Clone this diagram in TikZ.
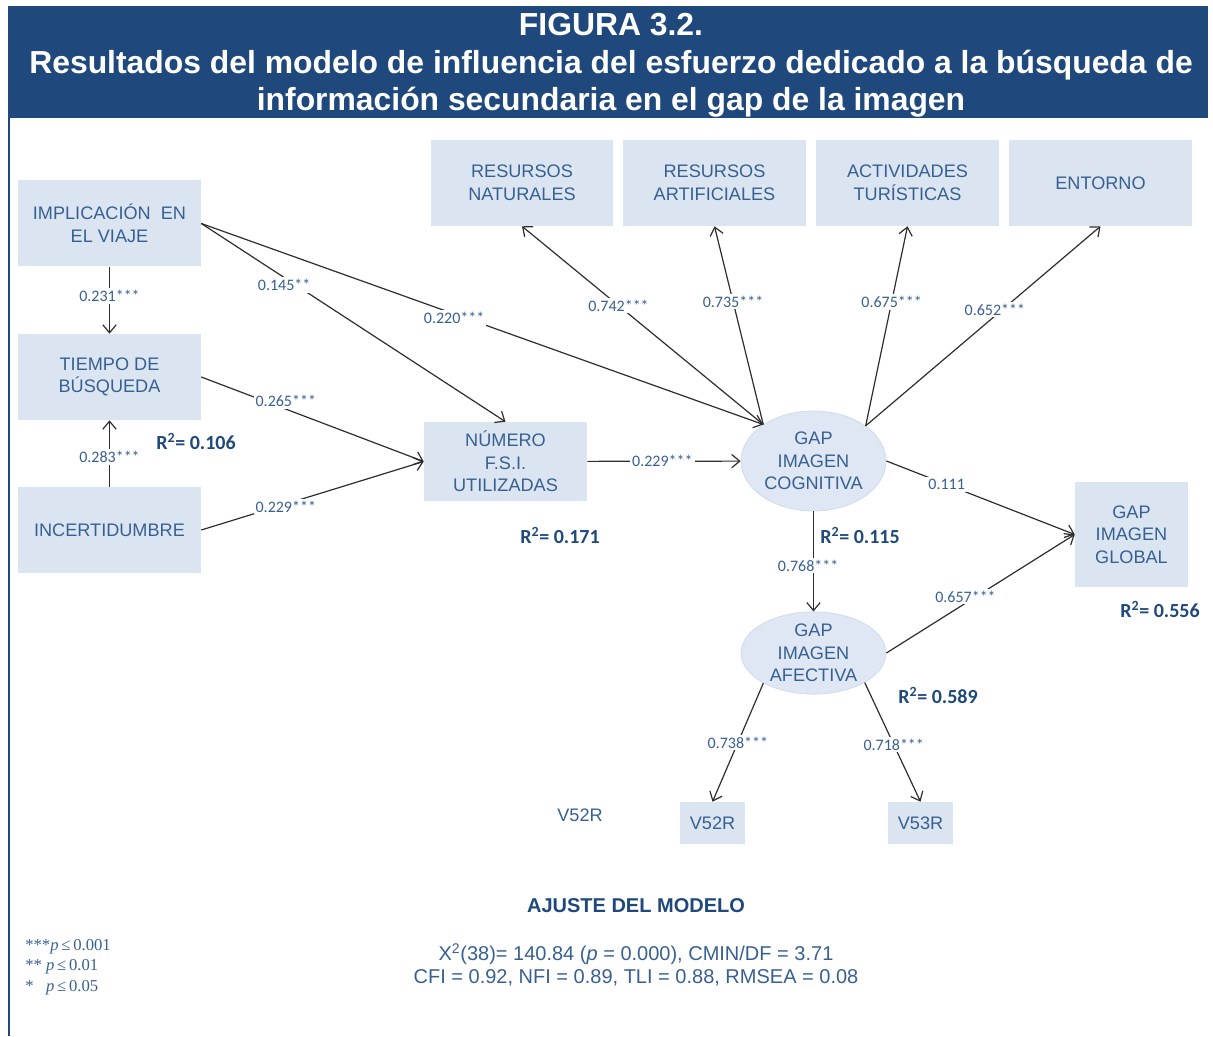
\documentclass[tikz,border=0pt]{standalone}
\usepackage{fontspec}
\setmainfont{Liberation Sans}
\newfontfamily\calfont{Carlito}
\newfontfamily\timesfont{Liberation Serif}
\usetikzlibrary{shapes.geometric,arrows.meta}
\definecolor{bandblue}{RGB}{31,73,125}
\definecolor{boxfill}{RGB}{219,229,241}
\definecolor{ovalfill}{RGB}{222,231,243}
\definecolor{ovaledge}{RGB}{208,220,236}
\definecolor{txtblue}{RGB}{55,96,146}
\definecolor{linegray}{RGB}{45,45,45}
\begin{document}
\begin{tikzpicture}[x=0.75pt,y=0.75pt,yscale=-1,xscale=1,
  caja/.style={fill=boxfill,text=txtblue,inner sep=0pt,align=center,font=\fontsize{13.6}{17}\selectfont},
  ovalo/.style={ellipse,fill=ovalfill,draw=ovaledge,line width=0.6pt,text=txtblue,inner sep=0pt,align=center,minimum width=108.75pt,font=\fontsize{13.6}{17}\selectfont},
  flecha/.style={draw=linegray,line width=0.9pt,-{Straight Barb[length=6pt,width=10pt]}},
  coef/.style={fill=white,text=txtblue,inner sep=1.5pt,font=\calfont\fontsize{12}{14}\selectfont},
  rcuad/.style={text=bandblue,inner sep=0pt,font=\calfont\bfseries\fontsize{15}{18}\selectfont},
  ajuste/.style={text=txtblue,inner sep=0pt,font=\fontsize{15}{18}\selectfont},
  leyenda/.style={anchor=west,text=txtblue,inner sep=0pt,font=\timesfont\fontsize{12.5}{14}\selectfont},
]
\useasboundingbox (0,0) rectangle (1213,1037);

%Shape: Title band
\fill [bandblue] (8,6) rectangle (1208,118);
\draw [bandblue,line width=1.5pt] (9,118) -- (9,1036);
% Text Node
\node (titulo) at (611,65.5) [text=white,align=center,font=\bfseries\fontsize{23.9}{28}\selectfont] {FIGURA 3.2.\\Resultados del modelo de influencia del esfuerzo dedicado a la búsqueda de\\información secundaria en el gap de la imagen};

%Shape: Boxes
\node (impl) at (109.5,223.5) [caja,minimum width=137.25pt,minimum height=64.5pt] {IMPLICACIÓN\ \ EN\\EL VIAJE};
\node (tiempo) at (109.5,377) [caja,minimum width=137.25pt,minimum height=64.5pt] {TIEMPO DE\\BÚSQUEDA};
\node (incert) at (109.5,530) [caja,minimum width=137.25pt,minimum height=64.5pt] {INCERTIDUMBRE};
\node (num) at (505.5,461.5) [caja,minimum width=122.25pt,minimum height=59.25pt] {NÚMERO\\F.S.I.\\UTILIZADAS};
\node (nat) at (522,183) [caja,minimum width=136.5pt,minimum height=64.5pt] {RESURSOS\\NATURALES};
\node (art) at (714.5,183) [caja,minimum width=137.25pt,minimum height=64.5pt] {RESURSOS\\ARTIFICIALES};
\node (act) at (907.5,183) [caja,minimum width=137.25pt,minimum height=64.5pt] {ACTIVIDADES\\TURÍSTICAS};
\node (ent) at (1100.5,183) [caja,minimum width=137.25pt,minimum height=64.5pt] {ENTORNO};
\node (glob) at (1131.5,534.5) [caja,minimum width=84.75pt,minimum height=78.75pt] {GAP\\IMAGEN\\GLOBAL};
\node (v52) at (712.5,823) [caja,minimum width=48.75pt,minimum height=31.5pt] {V52R};
\node (v53) at (920.5,823) [caja,minimum width=48.75pt,minimum height=31.5pt] {V53R};
\node (vsuelto) at (580,815) [text=txtblue,font=\fontsize{13.6}{17}\selectfont] {V52R};

%Shape: Ellipses
\node (cog) at (813.5,461) [ovalo,minimum height=75pt] {GAP\\IMAGEN\\COGNITIVA};
\node (afe) at (813.5,653) [ovalo,minimum height=61.5pt] {GAP\\IMAGEN\\AFECTIVA};

%Straight Lines
\draw [flecha] (impl) -- node [coef,pos=0.44] (c1) {0.231***} (tiempo);
\draw [flecha] (incert) -- node [coef,pos=0.45] (c2) {0.283***} (tiempo);
\draw [flecha] (impl.east) -- node [coef,pos=0.29,xshift=-4pt,yshift=-3pt] (c3) {0.145**} (num.north);
\draw [flecha] (impl.east) -- node [coef,pos=0.45,yshift=-3pt] (c4) {0.220***} (cog.144);
\draw [flecha] (tiempo.east) -- node [coef,pos=0.38,yshift=6pt] (c5) {0.265***} (num.west);
\draw [flecha] (incert.east) -- node [coef,pos=0.38,yshift=-2pt] (c6) {0.229***} (num.west);
\draw [flecha] (num) -- node [coef,pos=0.49] (c7) {0.229***} (cog);
\draw [flecha] (cog.144) -- node [coef,pos=0.6] (c8) {0.742***} (nat.south);
\draw [flecha] (cog.144) -- node [coef,pos=0.62] (c9) {0.735***} (art.south);
\draw [flecha] (cog.34) -- node [coef,pos=0.62] (c10) {0.675***} (act.south);
\draw [flecha] (cog.34) -- node [coef,pos=0.55,yshift=5pt] (c11) {0.652***} (ent.south);
\draw [flecha] (cog.east) -- node [coef,pos=0.32] (c12) {0.111} (glob.west);
\draw [flecha] (cog) -- node [coef,pos=0.54,xshift=-4pt] (c13) {0.768***} (afe);
\draw [flecha] (afe.east) -- node [coef,pos=0.42,yshift=5pt] (c14) {0.657***} (glob.west);
\draw [flecha] (afe.211) -- node [coef,pos=0.5] (c15) {0.738***} (v52.north);
\draw [flecha] (afe.330) -- node [coef,pos=0.52] (c16) {0.718***} (v53.north);

% Text Node
\node (r1) at (196,441) [rcuad] {R\textsuperscript{2}= 0.106};
\node (r2) at (560,535) [rcuad] {R\textsuperscript{2}= 0.171};
\node (r3) at (860,535) [rcuad] {R\textsuperscript{2}= 0.115};
\node (r4) at (1160,609) [rcuad] {R\textsuperscript{2}= 0.556};
\node (r5) at (938,695) [rcuad] {R\textsuperscript{2}= 0.589};

% Text Node
\node (ajtitulo) at (636,906) [ajuste,text=bandblue,font=\bfseries\fontsize{15}{18}\selectfont] {AJUSTE DEL MODELO};
\node (ajuno) at (636,954) [ajuste] {X\textsuperscript{2}(38)= 140.84 (\textit{p} = 0.000), CMIN/DF = 3.71};
\node (ajdos) at (636,978) [ajuste] {CFI = 0.92, NFI = 0.89, TLI = 0.88, RMSEA = 0.08};

% Text Node
\node (ley1) at (25,947) [leyenda] {***\textit{p}\,≤\,0.001};
\node (ley2) at (25,967) [leyenda] {**\ \textit{p}\,≤\,0.01};
\node (ley3) at (25,988) [leyenda] {*\ \ \ \textit{p}\,≤\,0.05};
\end{tikzpicture}
\end{document}
